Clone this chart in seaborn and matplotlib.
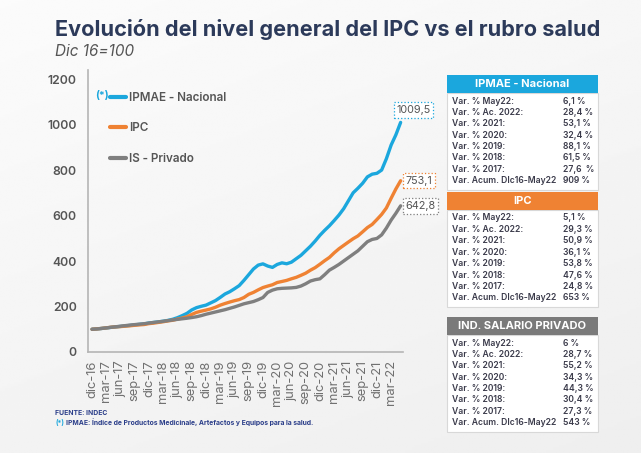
import numpy as np
import pandas as pd
import matplotlib
matplotlib.use("Agg")
import matplotlib.pyplot as plt
from matplotlib.patches import Rectangle
import seaborn as sns

# ---------------- data ----------------
months = ['dic-16',
          'ene-17','feb-17','mar-17','abr-17','may-17','jun-17','jul-17','ago-17','sep-17','oct-17','nov-17','dic-17',
          'ene-18','feb-18','mar-18','abr-18','may-18','jun-18','jul-18','ago-18','sep-18','oct-18','nov-18','dic-18',
          'ene-19','feb-19','mar-19','abr-19','may-19','jun-19','jul-19','ago-19','sep-19','oct-19','nov-19','dic-19',
          'ene-20','feb-20','mar-20','abr-20','may-20','jun-20','jul-20','ago-20','sep-20','oct-20','nov-20','dic-20',
          'ene-21','feb-21','mar-21','abr-21','may-21','jun-21','jul-21','ago-21','sep-21','oct-21','nov-21','dic-21',
          'ene-22','feb-22','mar-22','abr-22','may-22']

ipmae = [100,
         101.5, 103.5, 105.8, 108.3, 110.5, 112.5, 114.8, 116.8, 119.5, 121.5, 123.5, 127.6,
         130, 132.5, 135.5, 139, 144, 151, 160, 170, 185, 195, 201, 206.1,
         216, 226, 240, 255, 265, 278, 292, 315, 340, 365, 382, 387.6,
         378, 372, 385, 392, 388, 395, 410, 425, 445, 465, 488, 513.2,
         535, 555, 578, 602, 630, 665, 700, 720, 742, 770, 782, 785.7,
         800, 850, 910, 955, 1009.5]

ipc = [100,
       101.6, 103.7, 106.2, 109.0, 110.5, 111.8, 113.7, 115.3, 117.5, 119.3, 120.9, 124.8,
       127.0, 130.1, 133.1, 136.7, 139.6, 144.8, 149.3, 155.1, 165.2, 174.1, 179.6, 184.3,
       189.6, 196.8, 206.0, 213.1, 219.6, 225.5, 230.5, 239.6, 253.7, 262.1, 273.2, 283.4,
       289.8, 295.7, 305.6, 310.1, 314.9, 321.9, 328.2, 337.1, 346.6, 359.7, 371.0, 385.9,
       401.5, 415.9, 435.9, 453.7, 468.7, 483.6, 498.1, 510.4, 528.5, 547.1, 560.9, 582.5,
       605.0, 633.4, 676.1, 716.9, 753.1]

is_privado = [100,
              101.5, 103.5, 106.0, 108.5, 111.0, 113.5, 116.0, 118.5, 120.5, 122.5, 124.5, 127.3,
              130, 132.5, 135, 138, 141, 143.5, 146, 148.5, 151.5, 155, 160, 166.0,
              171, 176, 181, 186, 192, 198, 205, 212, 217, 222, 230, 239.5,
              262, 272, 278, 280, 281, 282, 284, 290, 300, 312, 318, 321.7,
              340, 360, 372, 385, 400, 415, 430, 445, 465, 485, 495, 499.3,
              515, 545, 580, 610, 642.8]

series_names = ['IPMAE - Nacional', 'IPC', 'IS - Privado']
series_colors = ['#1ba7dd', '#ef8233', '#7f7f7f']
end_labels = ['1009,5', '753,1', '642,8']

tick_labels = ['dic-16','mar-17','jun-17','sep-17','dic-17','mar-18','jun-18','sep-18','dic-18',
               'mar-19','jun-19','sep-19','dic-19','mar-20','jun-20','sep-20','dic-20',
               'mar-21','jun-21','sep-21','dic-21','mar-22']
y_ticks = [0, 200, 400, 600, 800, 1000, 1200]

row_labels = ['Var. % May22:', 'Var. % Ac. 2022:', 'Var. % 2021:', 'Var. % 2020:',
              'Var. % 2019:', 'Var. % 2018:', 'Var. % 2017:', 'Var. Acum. Dlc16-May22']
ipmae_table = ['6,1 %', '28,4 %', '53,1 %', '32,4 %', '88,1 %', '61,5 %', '27,6  %', '909 %']
ipc_table = ['5,1 %', '29,3 %', '50,9 %', '36,1 %', '53,8 %', '47,6 %', '24,8 %', '653 %']
salario_table = ['6 %', '28,7 %', '55,2 %', '34,3 %', '44,3 %', '30,4 %', '27,3 %', '543 %']
table_titles = ['IPMAE - Nacional', 'IPC', 'IND. SALARIO PRIVADO']
table_colors = ['#1ba7dd', '#ef8233', '#7a7a7a']

# ---------------- frame ----------------
df = pd.DataFrame({
    'mes': list(range(len(months))) * 3,
    'valor': ipmae + ipc + is_privado,
    'serie': [series_names[0]] * len(months) + [series_names[1]] * len(months) + [series_names[2]] * len(months),
})

sns.set_theme(style='white')
plt.rcParams['font.family'] = ['Inter', 'DejaVu Sans']

W, H = 641, 453
fig = plt.figure(figsize=(W / 100, H / 100), dpi=100)

# background gradient
bg = fig.add_axes([0, 0, 1, 1], zorder=-10)
gx = np.linspace(0, 1, 200)
gy = np.linspace(0, 1, 200)
GX, GY = np.meshgrid(gx, gy)
grad = 0.985 - 0.05 * (0.35 * GX + 0.65 * GY)
bg.imshow(grad, cmap='gray', vmin=0, vmax=1, aspect='auto', extent=[0, 1, 0, 1], origin='upper')
bg.set_axis_off()

def fx(px):
    return px / W

def fy(py):
    return 1 - py / H

ax = fig.add_axes([fx(88), fy(352), fx(403) - fx(88), fy(70) - fy(352)])
ax.set_facecolor('none')

sns.lineplot(data=df, x='mes', y='valor', hue='serie', hue_order=series_names,
             palette=series_colors, linewidth=2.4, ax=ax, legend=True)

ax.set_xlim(-0.85, 65.5)
ax.set_ylim(0, 1240)
ax.set_xticks(list(range(0, 64, 3)))
ax.set_xticklabels(tick_labels, rotation=90, fontsize=9.3, color='#707070')
ax.set_yticks(y_ticks)
ax.set_yticklabels([str(v) for v in y_ticks], fontsize=8.8, color='#555555', fontweight='semibold')
ax.set_xlabel('')
ax.set_ylabel('')
for s in ['top', 'right']:
    ax.spines[s].set_visible(False)
for s in ['left', 'bottom']:
    ax.spines[s].set_color('#b5b5b5')
    ax.spines[s].set_linewidth(1.2)
ax.tick_params(axis='x', direction='out', length=4, color='#b5b5b5', pad=2)
ax.tick_params(axis='y', length=0, pad=8)
ax.tick_params(axis='y', which='major', left=False)
ax.set_yticks([0], minor=True)
ax.tick_params(axis='y', which='minor', length=4, color='#b5b5b5', left=True)

leg = ax.legend(loc='upper left', bbox_to_anchor=(0.035, 0.96), frameon=False,
                labelspacing=1.6, handlelength=1.45, handletextpad=0.25,
                labelcolor='#555555', prop={'weight': 'semibold', 'size': 8.4})
for h in leg.get_lines():
    h.set_linewidth(3)
fig.text(fx(95), fy(96), '(*)', color='#1ba7dd', fontsize=7.5, fontweight='bold', va='center')

# end labels
series_values = [ipmae, ipc, is_privado]
offsets = [(-0.9, 55), (1.0, 0), (1.0, 0)]
for vals, lab, col, (dx, dy) in zip(series_values, end_labels, series_colors, offsets):
    ax.text(len(vals) - 1 + dx, vals[-1] + dy, lab, fontsize=7.8, color='#555555',
            ha='left', va='center',
            bbox=dict(boxstyle='square,pad=0.25', fc='white', ec=col, ls=':', lw=0.9))

# titles
fig.text(fx(55), fy(29), 'Evolución del nivel general del IPC vs el rubro salud',
         fontsize=15.6, fontweight='bold', color='#2c3a5a', va='center')
fig.text(fx(55), fy(51), 'Dic 16=100', fontsize=11, fontstyle='italic', color='#555555', va='center')

# tables
tables = [ipmae_table, ipc_table, salario_table]
tops = [75, 192, 317]
for title, col, vals, top in zip(table_titles, table_colors, tables, tops):
    x0, x1 = 447, 598
    hh = 18
    nrows = len(row_labels)
    rh = 11.4
    body_h = nrows * rh + 6
    fig.patches.append(Rectangle((fx(x0), fy(top + hh + body_h)), fx(x1) - fx(x0),
                                 fy(top + hh) - fy(top + hh + body_h),
                                 transform=fig.transFigure, fc='white', ec='#d8d8d8', lw=0.8, zorder=1))
    fig.patches.append(Rectangle((fx(x0), fy(top + hh)), fx(x1) - fx(x0), fy(top) - fy(top + hh),
                                 transform=fig.transFigure, fc=col, ec='none', zorder=2))
    fig.text(fx((x0 + x1) / 2), fy(top + hh / 2), title, color='white', fontsize=8,
             fontweight='bold', ha='center', va='center', zorder=3)
    for i, (lab, v) in enumerate(zip(row_labels, vals)):
        yy = top + hh + 8 + i * rh
        fig.text(fx(452), fy(yy), lab, fontsize=6.2, color='#3a3a4a', fontweight='semibold',
                 va='center', zorder=3)
        fig.text(fx(563), fy(yy), v, fontsize=6.2, color='#3a3a4a', fontweight='semibold',
                 va='center', zorder=3)

# footnotes
fig.text(fx(55), fy(413), 'FUENTE: INDEC', fontsize=4.9, fontweight='bold', color='#2c3f8a', va='center')
fig.text(fx(55), fy(422), '(*)', fontsize=4.9, fontweight='bold', color='#1ba7dd', va='center')
fig.text(fx(66), fy(422), 'IPMAE: Índice de Productos Medicinale, Artefactos y Equipos para la salud.',
         fontsize=4.9, fontweight='bold', color='#2c3f8a', va='center')

fig.savefig('out.png', dpi=100, facecolor=fig.get_facecolor())
